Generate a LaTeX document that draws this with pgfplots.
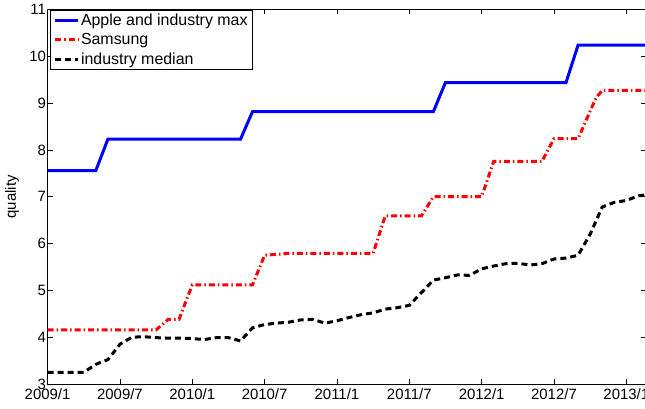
\documentclass[border=0pt]{standalone}
\usepackage{fontspec}
\setmainfont{Liberation Sans}
\usepackage{pgfplots}
\pgfplotsset{compat=1.18}
\begin{document}
\begin{tikzpicture}
\useasboundingbox (-47.6bp,-25bp) rectangle (597.4bp,384bp);
\begin{axis}[
  scale only axis, width=598bp, height=374.5bp,
  xmin=0, xmax=49.6, ymin=3, ymax=11,
  xtick={0,6,...,48},
  xticklabels={2009/1,2009/7,2010/1,2010/7,2011/1,2011/7,2012/1,2012/7,2013/1},
  ytick={3,...,11},
  tick align=inside, major tick length=5bp,
  tick style={line width=0.8bp, black},
  axis line style={line width=1bp},
  font=\fontsize{15}{18}\selectfont,
  /pgf/number format/assume math mode=true,
  ylabel={quality},
  ylabel style={at={(axis description cs:-0.0595,0.5)}, anchor=center},
  yticklabel style={inner sep=1.5bp},
  xticklabel style={inner sep=2bp, yshift=-2bp},
  legend style={at={(axis description cs:0,1)}, anchor=north west, xshift=2.5bp, yshift=-0.5bp,
    draw=black, line width=0.8bp, fill=white, inner xsep=3bp, inner ysep=2bp,
    cells={anchor=west}, font=\fontsize{16}{18}\selectfont, row sep=3.5bp,
    nodes={inner sep=1.5bp}},
  legend image code/.code={\draw[#1] (0bp,0bp) -- (23bp,0bp);},
]
\addplot[blue, line width=3bp] coordinates {
(0,7.56) (4,7.56) (5,8.23) (16,8.23) (17,8.82) (32,8.82) (33,9.44) (43,9.44) (44,10.24) (49.6,10.24)};
\addlegendentry{Apple and industry max}
\addplot[red, line width=3bp, dash pattern=on 6bp off 3bp on 1.5bp off 3bp] coordinates {
(0,4.155) (9,4.155) (10,4.38) (10.9,4.38) (12,5.12) (17,5.12) (18,5.75) (20,5.79) (27,5.79) (28,6.59) (31,6.59) (32,7.0) (36,7.0) (37,7.755) (41,7.755) (42,8.24) (44,8.24) (45,8.83) (45.5,9.12) (46,9.27) (49.6,9.27)};
\addlegendentry{Samsung}
\addplot[black, line width=3bp, dash pattern=on 6bp off 4bp] coordinates {
(0,3.25) (3,3.25) (4,3.42) (5,3.52) (6,3.85) (7,4.0) (8,4.01) (9,3.99) (10,3.98) (11,3.98) (12,3.97) (13,3.95) (14,3.99) (15,3.99) (16,3.92) (17,4.20) (18,4.27) (19,4.30) (20,4.32) (21,4.37) (22,4.38) (23,4.30) (24,4.35) (25,4.42) (26,4.48) (27,4.52) (28,4.60) (29,4.63) (30,4.68) (31,4.95) (32,5.22) (33,5.27) (34,5.33) (35,5.32) (36,5.46) (37,5.52) (38,5.57) (39,5.58) (40,5.54) (41,5.57) (42,5.67) (43,5.69) (44,5.75) (45,6.2) (46,6.78) (47,6.88) (48,6.92) (49,7.02) (49.6,7.04)};
\addlegendentry{industry median}
\end{axis}
\end{tikzpicture}
\end{document}
